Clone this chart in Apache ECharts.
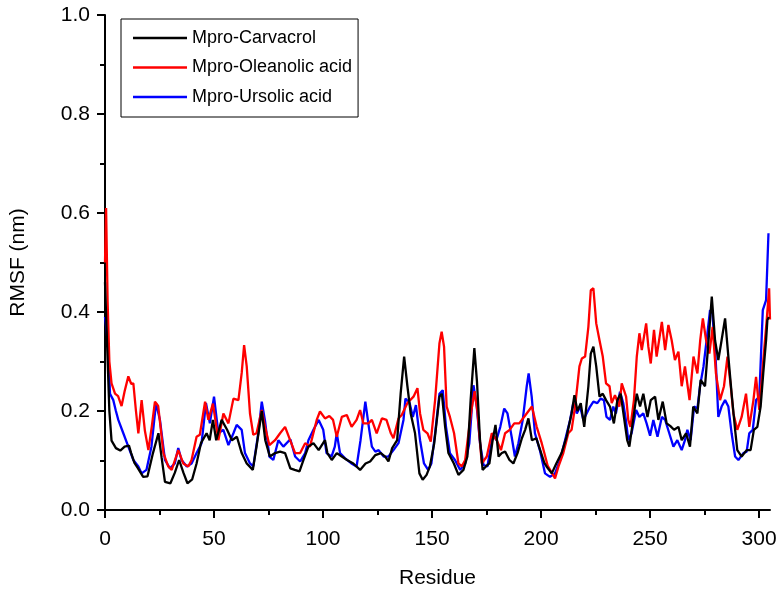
<!DOCTYPE html>
<html>
<head>
<meta charset="utf-8">
<script src="https://cdn.jsdelivr.net/npm/echarts@6/dist/echarts.min.js"></script>
<style>html,body{margin:0;padding:0;background:#fff}#c{width:784px;height:592px}</style>
</head>
<body>
<div id="c"></div>
<script>
var seriesNames = ['Mpro-Carvacrol', 'Mpro-Oleanolic acid', 'Mpro-Ursolic acid'];
var xTickLabels = [0, 50, 100, 150, 200, 250, 300];
var xMinorTicks = [25, 75, 125, 175, 225, 275];

var carvacrolRes = [0,1,2,3,5,7,9,11,12,13.5,15,17.5,19.5,22,24.5,26,27.5,30,32,34,36,37.8,40,42,44,46.6,48,49.5,51,53.5,56,58.2,60.5,62.7,65,67.8,69.5,71.9,73.5,75.6,78,80.3,82.6,85,87,89.2,91,93.3,95.6,98,100.9,102,104,106.3,108.6,111,113.9,117,119.5,121.6,124,126.5,128.5,130,131.7,134,135.6,137.2,138.7,140.2,142.2,144.2,145.7,147.5,149,151,153.4,154.5,156,157.5,160,162.1,164.4,166.2,167.7,169.4,170.6,172,173.2,174.7,176.3,177.8,179.1,180.5,182,183.5,185.5,187.3,189.2,191.2,192.7,194.2,195.8,197.8,199.6,201.5,202.5,204.9,207.1,209.4,211.7,214,215.3,216.7,218.2,219.8,221.7,222.8,224,225.3,226.8,228.3,229.8,231.6,233.4,235,236.5,238,239.5,240.5,242,243.9,245.4,246.9,248.8,250.3,252.3,253.8,255.8,257.6,259.2,261,263,264.5,266.5,268.3,269.8,271.7,273.2,275.2,276.6,278.3,279.8,281.3,282.8,284.4,285.9,287.4,289,290,292,294.3,296.1,297.6,299.2,300.7,301.9,303.2,303.8,304.5];
var carvacrolRmsf = [0.46,0.33,0.2,0.14,0.125,0.12,0.128,0.13,0.115,0.095,0.085,0.067,0.068,0.115,0.155,0.105,0.057,0.054,0.075,0.101,0.075,0.054,0.062,0.094,0.135,0.155,0.141,0.182,0.141,0.182,0.162,0.141,0.148,0.115,0.094,0.081,0.128,0.2,0.141,0.108,0.115,0.118,0.115,0.084,0.081,0.078,0.101,0.128,0.135,0.121,0.141,0.115,0.101,0.115,0.108,0.101,0.094,0.081,0.094,0.098,0.111,0.115,0.108,0.098,0.125,0.141,0.235,0.31,0.25,0.195,0.155,0.074,0.061,0.071,0.088,0.135,0.229,0.235,0.168,0.115,0.094,0.071,0.081,0.108,0.222,0.327,0.26,0.141,0.081,0.088,0.094,0.141,0.172,0.108,0.115,0.118,0.101,0.094,0.115,0.145,0.162,0.185,0.141,0.145,0.121,0.095,0.088,0.074,0.095,0.115,0.148,0.195,0.232,0.2,0.216,0.168,0.25,0.316,0.33,0.29,0.229,0.235,0.222,0.209,0.175,0.222,0.235,0.188,0.141,0.128,0.175,0.235,0.209,0.235,0.188,0.222,0.229,0.182,0.219,0.175,0.17,0.162,0.168,0.141,0.155,0.128,0.209,0.195,0.263,0.25,0.33,0.431,0.343,0.303,0.343,0.387,0.31,0.235,0.162,0.121,0.108,0.121,0.121,0.162,0.168,0.209,0.276,0.343,0.384,0.39];

var oleanolicRes = [0,0.5,1.2,2,3,4.6,6,7.6,9,10.7,12,13,14.2,15.3,16.8,18.3,19.9,21.5,22.9,24.4,26.8,29,30.6,33.6,35.9,38.2,39.7,42,43.5,45.9,47.4,49.5,52,54.3,56.6,58.9,61.2,62.7,63.8,65,66.5,68,69.5,71.9,73.4,75.4,78,80.3,82.6,84.9,87.2,89.5,91.8,94,97.1,98.6,100.9,102.9,104.6,106.3,108.6,110.9,113.1,115.4,117,118.5,120.8,122.4,124.6,127,129.1,131.1,132.3,134.6,136.1,138.7,141.5,143.3,144.5,146,147.9,149.4,151.4,153.4,154.4,155.5,156.7,158.2,160.1,162.1,163.6,165.2,166.7,168,169.5,170.8,172.8,175.1,177.4,179.7,181.6,183.5,185.6,187.7,190,193.4,195.8,198,200.3,201.5,203,206.4,208,210.2,212.5,214,215.6,217.6,218.7,220.2,221.7,222.8,224,225.3,226.8,228.3,229.8,231.4,232.4,233.9,235.9,237,239,240,241,242.6,243.9,245.1,246.2,248.2,249.2,250.3,251.8,253,255.4,256.9,258.4,259.9,261.4,263,264.5,266,268.1,269.9,271.7,273,274.2,275.7,277.2,278.7,280.2,282.1,283.9,285.5,287,288.2,290,292,294,295.5,297.4,298.6,300.1,301.7,303.5,304.6,305];
var oleanolicRmsf = [0.5,0.61,0.42,0.3,0.256,0.235,0.23,0.21,0.24,0.27,0.255,0.256,0.2,0.155,0.222,0.16,0.121,0.17,0.219,0.21,0.115,0.088,0.081,0.121,0.094,0.088,0.101,0.148,0.152,0.219,0.182,0.215,0.141,0.195,0.175,0.225,0.222,0.277,0.333,0.29,0.195,0.152,0.155,0.202,0.168,0.131,0.141,0.155,0.168,0.141,0.115,0.115,0.135,0.128,0.182,0.199,0.185,0.19,0.182,0.148,0.188,0.192,0.168,0.182,0.202,0.175,0.175,0.182,0.155,0.185,0.182,0.155,0.145,0.185,0.192,0.216,0.229,0.246,0.195,0.162,0.155,0.138,0.222,0.337,0.36,0.33,0.209,0.188,0.155,0.094,0.088,0.101,0.155,0.2,0.24,0.2,0.094,0.108,0.155,0.141,0.121,0.155,0.162,0.175,0.175,0.195,0.209,0.168,0.135,0.115,0.09,0.064,0.088,0.115,0.155,0.162,0.209,0.29,0.306,0.31,0.37,0.444,0.448,0.377,0.343,0.31,0.256,0.25,0.216,0.232,0.209,0.256,0.229,0.182,0.168,0.222,0.31,0.357,0.323,0.377,0.33,0.296,0.364,0.31,0.38,0.323,0.374,0.343,0.303,0.32,0.25,0.29,0.222,0.31,0.276,0.343,0.387,0.343,0.316,0.37,0.276,0.222,0.25,0.31,0.25,0.195,0.162,0.188,0.235,0.168,0.222,0.269,0.202,0.29,0.384,0.448,0.385];

var ursolicRes = [0,0.8,1.5,2.3,3.8,5,6.1,8.4,10.7,13,15.3,16.8,19,21.3,23.4,25.2,27.5,29.8,32,33.6,35.1,37.5,39.7,42,44.3,46.3,48.1,50,52,54.3,56.6,58.9,60.4,62.7,64.2,66.5,68,70.3,71.9,73.4,75.4,77.2,79.5,81.8,85,87.2,89.5,91.8,93.3,95.6,98,100.1,101.6,103.9,105.4,106.3,107.8,110,113,115.4,117.2,119.4,121,122.4,124,125.5,127.8,130,132.3,134.6,136.9,137.8,139.7,141.2,142.6,144.5,146.3,148.2,149.7,151.4,153.4,154.9,156.4,158.2,160.5,162.9,165.2,167.1,169,170.5,172,173.6,175.4,177.2,178,179.5,181.3,183.1,184.6,186.5,188,189.6,191.6,193.4,194.3,195.7,197.2,199.5,201.8,204.1,206.4,208.7,211,213.3,214.8,216.4,217.9,219.4,220.9,222.5,224,225.8,227.3,228.8,230,231.6,233.1,234.3,236.2,237.7,238.9,240,241.5,243.6,245.1,246.9,248.4,250,251.5,253.4,255.4,256.9,258.8,260.7,262.5,264.5,266,267.1,268.6,270.2,271.7,272.9,274.5,276.3,277.5,278.6,280.1,281.3,282.8,284.4,285.9,287.4,289,290.5,292.8,294.3,295.5,297.1,298.6,300.1,301.7,303.2,304.3];
var ursolicRmsf = [0.39,0.36,0.323,0.235,0.222,0.2,0.182,0.155,0.128,0.101,0.088,0.074,0.081,0.128,0.216,0.182,0.101,0.084,0.094,0.125,0.101,0.088,0.094,0.115,0.135,0.216,0.175,0.229,0.155,0.162,0.131,0.155,0.172,0.162,0.115,0.094,0.088,0.155,0.219,0.18,0.108,0.101,0.141,0.128,0.143,0.108,0.098,0.115,0.141,0.162,0.182,0.162,0.115,0.108,0.128,0.155,0.115,0.105,0.094,0.088,0.141,0.219,0.168,0.128,0.118,0.121,0.108,0.108,0.121,0.135,0.182,0.225,0.216,0.188,0.212,0.141,0.094,0.081,0.094,0.155,0.235,0.242,0.168,0.115,0.101,0.081,0.094,0.135,0.252,0.209,0.135,0.091,0.088,0.135,0.152,0.141,0.168,0.205,0.195,0.148,0.108,0.135,0.182,0.249,0.276,0.229,0.155,0.12,0.074,0.067,0.074,0.101,0.141,0.182,0.216,0.195,0.209,0.182,0.195,0.209,0.219,0.216,0.225,0.222,0.188,0.182,0.209,0.195,0.239,0.216,0.182,0.141,0.155,0.202,0.188,0.195,0.175,0.15,0.182,0.148,0.188,0.182,0.155,0.128,0.141,0.121,0.141,0.162,0.141,0.209,0.205,0.25,0.29,0.357,0.404,0.397,0.303,0.188,0.209,0.222,0.209,0.155,0.108,0.101,0.115,0.118,0.155,0.162,0.222,0.229,0.404,0.424,0.559];

function pairs(xs, ys) { return xs.map(function (x, i) { return [x, ys[i]]; }); }

var FONT = '"Liberation Sans", Arial, sans-serif';
var chart = echarts.init(document.getElementById('c'), null, { renderer: 'canvas' });
var colors = ['#000000', '#ff0000', '#0000ff'];
var dataSets = [pairs(carvacrolRes, carvacrolRmsf), pairs(oleanolicRes, oleanolicRmsf), pairs(ursolicRes, ursolicRmsf)];

chart.setOption({
  animation: false,
  backgroundColor: '#ffffff',
  textStyle: { fontFamily: FONT },
  grid: { left: 105, right: 14, top: 15, bottom: 82, containLabel: false, outerBoundsMode: 'none' },
  legend: {
    orient: 'vertical',
    left: 121, top: 19,
    padding: [10, 6, 11, 12],
    itemGap: 11.5,
    itemWidth: 54, itemHeight: 2.5,
    icon: 'rect',
    borderColor: '#000', borderWidth: 1,
    backgroundColor: '#fff',
    textStyle: { fontSize: 18, color: '#000', fontFamily: FONT },
    data: seriesNames
  },
  xAxis: [{
    type: 'value', min: 0, max: 305,
    name: 'Residue', nameLocation: 'middle', nameGap: 58,
    nameTextStyle: { fontSize: 21, color: '#000', fontFamily: FONT },
    axisLine: { show: true, onZero: false, lineStyle: { color: '#000', width: 2 } },
    axisTick: { show: true, inside: false, length: 8, lineStyle: { color: '#000', width: 2 }, customValues: xTickLabels },
    axisLabel: { fontSize: 21, color: '#000', margin: 19, fontFamily: FONT, customValues: xTickLabels },
    splitLine: { show: false }
  }, {
    type: 'value', min: 0, max: 305, position: 'bottom',
    axisLine: { show: false },
    axisTick: { show: true, inside: false, length: 5, lineStyle: { color: '#000', width: 2 }, customValues: xMinorTicks },
    axisLabel: { show: false },
    splitLine: { show: false }
  }],
  yAxis: {
    type: 'value', min: 0, max: 1.0, interval: 0.2,
    name: 'RMSF (nm)', nameLocation: 'middle', nameGap: 76,
    nameTextStyle: { fontSize: 21, color: '#000', fontFamily: FONT },
    axisLine: { show: true, onZero: false, lineStyle: { color: '#000', width: 2 } },
    axisTick: { show: true, inside: false, length: 8, lineStyle: { color: '#000', width: 2 } },
    minorTick: { show: true, splitNumber: 2, length: 5, lineStyle: { color: '#000', width: 2 } },
    axisLabel: { fontSize: 21, color: '#000', margin: 15, fontFamily: FONT, formatter: function (v) { return v.toFixed(1); } },
    splitLine: { show: false }
  },
  series: seriesNames.map(function (n, i) {
    return {
      name: n, type: 'line', xAxisIndex: 0, data: dataSets[i],
      showSymbol: false, symbol: 'none',
      lineStyle: { color: colors[i], width: 2.3 },
      itemStyle: { color: colors[i] },
      z: 3 - i
    };
  })
});
</script>
</body>
</html>
